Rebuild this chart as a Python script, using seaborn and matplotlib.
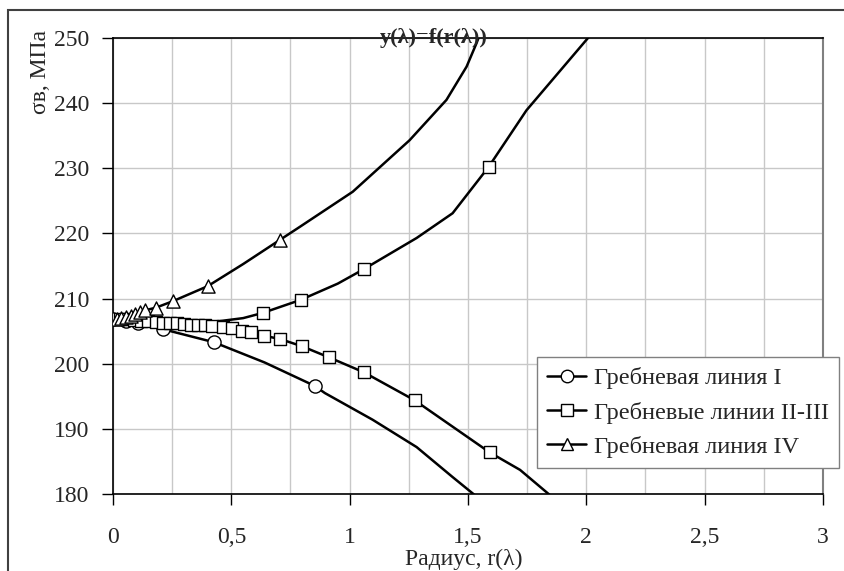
import matplotlib
matplotlib.use('Agg')
import matplotlib.pyplot as plt
import seaborn as sns
from matplotlib.lines import Line2D
from matplotlib.patches import Rectangle
from matplotlib.ticker import MultipleLocator

# Гребневая линия I (circles)
r1_mark = [0.0, 0.055, 0.105, 0.211, 0.426, 0.852]
s1_mark = [206.8, 206.5, 206.2, 205.3, 203.3, 196.6]
r1_line = [0.0, 0.055, 0.105, 0.211, 0.426, 0.64, 0.852, 0.895, 1.097, 1.283, 1.435, 1.56]
s1_line = [206.8, 206.5, 206.2, 205.3, 203.3, 200.2, 196.6, 195.5, 191.4, 187.2, 182.6, 178.9]

# Гребневые линии II-III (squares), lower branch
r2_mark = [0.03, 0.06, 0.09, 0.12, 0.15, 0.18, 0.21, 0.24, 0.27, 0.30, 0.33, 0.36, 0.39,
           0.42, 0.464, 0.502, 0.544, 0.582, 0.637, 0.705, 0.797, 0.911, 1.059, 1.274, 1.591]
s2_mark = [206.9, 206.8, 206.7, 206.6, 206.5, 206.4, 206.3, 206.2, 206.2, 206.1, 206.0, 205.9, 205.9,
           205.8, 205.6, 205.5, 205.0, 204.9, 204.3, 203.8, 202.7, 201.0, 198.7, 194.4, 186.4]
r2_line = r2_mark + [1.72, 1.87]
s2_line = s2_mark + [183.7, 179.1]

# Гребневые линии II-III (squares), upper branch
r3_mark = [0.633, 0.793, 1.059, 1.587]
s3_mark = [207.8, 209.8, 214.5, 230.2]
r3_line = [0.30, 0.464, 0.55, 0.633, 0.793, 0.95, 1.059, 1.283, 1.435, 1.587, 1.747, 2.0, 2.08]
s3_line = [206.1, 206.6, 207.0, 207.8, 209.8, 212.3, 214.5, 219.3, 223.1, 230.2, 238.9, 249.7, 253.2]

# Гребневая линия IV (triangles)
r4_mark = [0.015, 0.035, 0.055, 0.075, 0.095, 0.115, 0.135, 0.181, 0.253, 0.40, 0.705]
s4_mark = [206.9, 207.0, 207.2, 207.4, 207.6, 207.9, 208.2, 208.6, 209.6, 211.9, 219.0]
r4_line = r4_mark[:-1] + [0.55, 0.705, 0.789, 1.013, 1.253, 1.409, 1.494, 1.536, 1.57]
s4_line = s4_mark[:-1] + [215.3, 219.0, 221.0, 226.4, 234.3, 240.5, 245.6, 249.2, 252.5]

labels = ['Гребневая линия I', 'Гребневые линии II-III', 'Гребневая линия IV']
x_ticks = [0, 0.5, 1, 1.5, 2, 2.5, 3]
x_tick_labels = ['0', '0,5', '1', '1,5', '2', '2,5', '3']
y_ticks = [180, 190, 200, 210, 220, 230, 240, 250]

sns.set_style('white')
plt.rcParams['font.family'] = ['Liberation Serif', 'DejaVu Serif']
FS = 17

fig = plt.figure(figsize=(8.45, 5.71), dpi=100)
ax = fig.add_axes([113 / 845, 1 - 494 / 571, 710 / 845, 456 / 571])

lw = 1.8
for xs, ys in [(r1_line, s1_line), (r2_line, s2_line), (r3_line, s3_line), (r4_line, s4_line)]:
    sns.lineplot(x=xs, y=ys, color='black', linewidth=lw, sort=False, estimator=None,
                 ax=ax, legend=False, zorder=2)

for xs, ys, m, size in [(r1_mark, s1_mark, 'o', 90), (r2_mark, s2_mark, 's', 80),
                        (r3_mark, s3_mark, 's', 80), (r4_mark, s4_mark, '^', 90)]:
    sns.scatterplot(x=xs, y=ys, marker=m, s=size, color='white', edgecolor='black',
                    linewidth=1.0, ax=ax, legend=False, zorder=3)

ax.set_xlim(0, 3)
ax.set_ylim(180, 250)
ax.set_xticks(x_ticks)
ax.set_xticklabels(x_tick_labels)
ax.set_yticks(y_ticks)
ax.xaxis.set_minor_locator(MultipleLocator(0.25))
ax.grid(True, which='both', axis='x', color='#c8c8c8', linewidth=1)
ax.grid(True, which='major', axis='y', color='#c8c8c8', linewidth=1)
ax.set_axisbelow(True)
ax.tick_params(axis='both', which='minor', length=0)
ax.tick_params(axis='x', which='major', direction='out', length=8, width=1, pad=16,
               labelsize=FS, color='black', bottom=True)
ax.tick_params(axis='y', which='major', direction='out', length=8, width=1, pad=9,
               labelsize=FS, color='black', left=True)

for side in ['left', 'bottom', 'top']:
    ax.spines[side].set_color('black')
    ax.spines[side].set_linewidth(1.2)
ax.spines['right'].set_color('#808080')
ax.spines['right'].set_linewidth(1.5)

ax.set_xlabel('Радиус, r(λ)', fontsize=FS)
ax.xaxis.label.set(ha='center', va='center')
ax.xaxis.set_label_coords((464 - 113) / 710, (494 - 559) / 456)
ax.set_ylabel('σв, МПа', fontsize=FS)
ax.yaxis.label.set(ha='center', va='center')
ax.yaxis.set_label_coords((40 - 113) / 710, (494 - 72) / 456)

fig.text(434 / 845, 1 - 38 / 571, 'y(λ)=f(r(λ))', fontsize=16, fontweight='bold',
         ha='center', va='center', zorder=5)

handles = [Line2D([], [], color='black', lw=lw, marker=m, markersize=9,
                  markerfacecolor='white', markeredgecolor='black', markeredgewidth=1.0)
           for m in ['o', 's', '^']]
leg = ax.legend(handles, labels, loc='upper left', bbox_to_anchor=(537 / 845, 1 - 357 / 571),
                bbox_transform=fig.transFigure, fontsize=17.6, frameon=True, fancybox=False,
                edgecolor='#808080', framealpha=1, borderaxespad=0, borderpad=0.42,
                handlelength=1.6, handletextpad=0.3, labelspacing=0.5)
leg.get_frame().set_linewidth(1.0)

fig.add_artist(Rectangle((8 / 845, -0.1), 2, 1.1 - 10 / 571, transform=fig.transFigure,
                         fill=False, edgecolor='#404040', linewidth=1.5))

fig.savefig('out.png', dpi=100)
